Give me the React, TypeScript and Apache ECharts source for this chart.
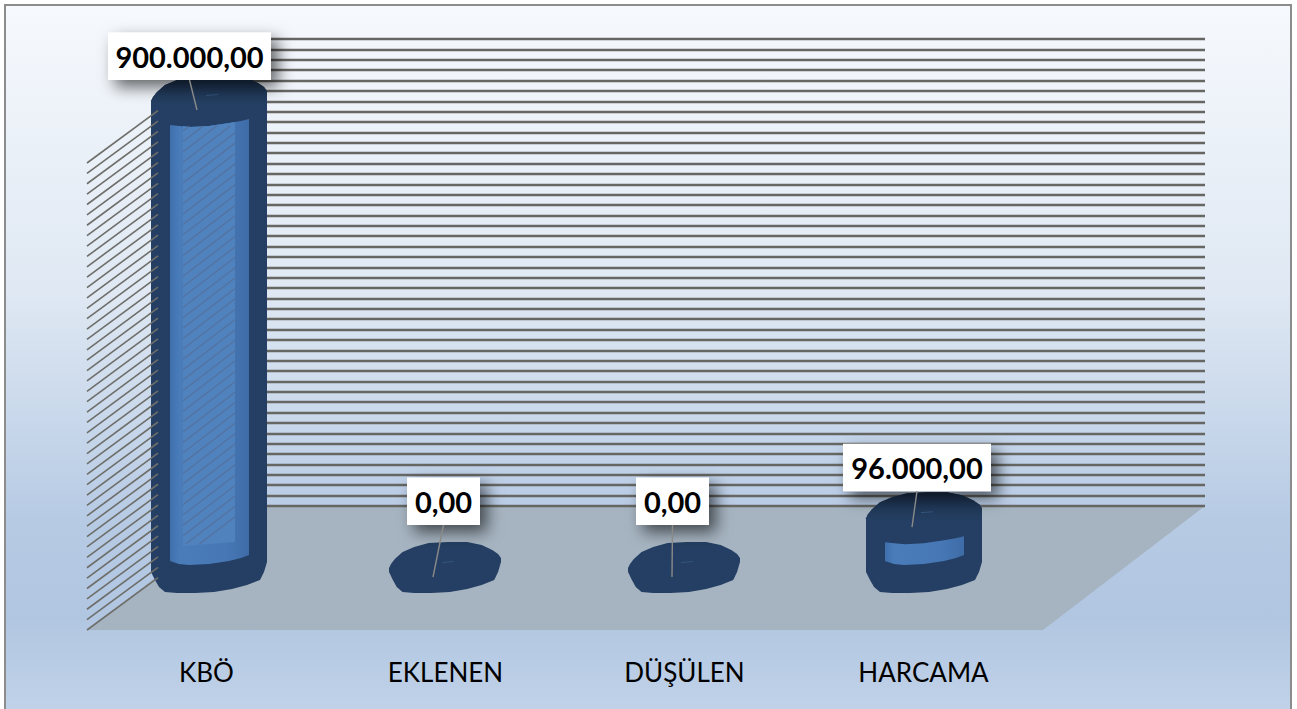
import React, { useEffect, useRef } from "react";
import * as echarts from "echarts";

const categories = ["KBÖ", "EKLENEN", "DÜŞÜLEN", "HARCAMA"];
const values = [900000, 0, 0, 96000];
const axisMax = 900000;
const axisStep = 20000;

// placement relative to the category centre / column top (pixels)
const columnNudgeX = [2.5, -0.5, -0.5, 0.5];
const labelShiftX = [-19.5, -1.5, -11.5, -7];
const labelGapY = [20, 42, 42, 26];

const FONT = "Lato, Carlito, 'Noto Sans', sans-serif";
const DEPTH_X = 162;
const DEPTH_Y = 124;
const BAR_SHIFT_Y = 63;
const RIM = "#243f63";

const topOutline = [[-58, 1], [-56, -3], [-52, -8], [-44, -15], [-32, -20], [-17, -24], [3, -25], [23, -25], [38, -22], [49, -17], [55, -13], [58, -9]];
const bottomOutline = [[58, -5], [55, 5], [51, 13], [38, 18], [23, 22], [5, 25], [-14, 26], [-32, 26], [-44, 25], [-50, 20], [-54, 13], [-58, 5]];
const windowTop = [[-39, 25], [-30, 26], [-19, 27], [0, 26], [20, 23], [32, 21], [40, 19]];
const windowBottom = [[40, -12], [32, -9], [20, -6], [0, -3], [-20, -2], [-30, -3], [-39, -6]];

const fmt = (v: number) => {
  const whole = String(Math.trunc(v)).replace(/\B(?=(\d{3})+$)/g, ".");
  return whole + ",00";
};

const ticks: number[] = [];
for (let v = 0; v <= axisMax; v += axisStep) ticks.push(v);

const wallColor = "#6e6e6a";

function renderFloor(params: any) {
  const c = params.coordSys;
  const x0 = c.x, x1 = c.x + c.width, y = c.y + c.height;
  return {
    type: "polygon",
    silent: true,
    shape: { points: [[x0, y], [x1, y], [x1 + DEPTH_X, y - DEPTH_Y], [x0 + DEPTH_X, y - DEPTH_Y]] },
    style: { fill: "#a6b4c1" },
  };
}

function renderWall(params: any, api: any) {
  const c = params.coordSys;
  const y = c.y + c.height - (api.value(0) / axisMax) * c.height;
  return {
    type: "line",
    silent: true,
    shape: { x1: c.x, y1: y, x2: c.x + 71, y2: y - 71 * (DEPTH_Y / DEPTH_X) + 2 },
    style: { stroke: wallColor, lineWidth: 1.6 },
  };
}

function renderBar(params: any, api: any) {
  const c = params.coordSys;
  const i = params.dataIndex;
  const pt = api.coord([i, api.value(1)]);
  const base = api.coord([i, 0]);
  const cx = pt[0] + columnNudgeX[i];
  const yTop = pt[1] - BAR_SHIFT_Y;
  const yBase = base[1] - BAR_SHIFT_Y;
  const flat = yBase - yTop <= 10;
  const sx = flat ? 0.965 : 1;
  const up = (o: number[]) => [cx + o[0] * sx, yTop + o[1]];
  const down = (o: number[]) => [cx + o[0] * sx, yBase + o[1]];
  const children: any[] = [
    {
      type: "polygon",
      shape: { points: [...topOutline.map(up), ...bottomOutline.map(down)] },
      style: { fill: RIM },
    },
  ];
  if (!flat) {
    children.push({
      type: "polygon",
      shape: { points: [...topOutline.map(up), [cx + 58, yTop + 4], [cx, yTop + 4], [cx - 58, yTop + 4]] },
      style: {
        fill: new echarts.graphic.LinearGradient(0, 0, 0, 1, [
          { offset: 0, color: "#1a2f4c" },
          { offset: 0.7, color: "#223b5c" },
          { offset: 1, color: RIM },
        ]),
      },
    });
    children.push({
      type: "polygon",
      shape: { points: [...windowTop.map(up), ...windowBottom.map(down)] },
      style: {
        fill: new echarts.graphic.LinearGradient(0, 0, 1, 0, [
          { offset: 0, color: "#3f70ac" },
          { offset: 0.12, color: "#4a7cba" },
          { offset: 0.7, color: "#4778b5" },
          { offset: 1, color: "#3e6ca8" },
        ]),
      },
    });
    const hatchTop = yTop + 26;
    const hatchBottom = yBase - 23;
    if (hatchBottom > hatchTop + 4) {
      const hx0 = cx - 26, hx1 = cx + 26;
      children.push({
        type: "polygon",
        shape: {
          points: [
            ...windowTop.filter((o) => Math.abs(o[0]) < 26).map(up),
            [hx1, yTop + 22],
            [hx1, yBase - 25],
            [hx0, yBase - 21],
            [hx0, yTop + 26],
          ],
        },
        style: { fill: "#5082be" },
      });
      const slope = DEPTH_Y / DEPTH_X;
      ticks.forEach((v) => {
        const y0 = api.coord([0, v])[1];
        const xa = c.x;
        const yAt = (x: number) => y0 - (x - xa) * slope;
        let a = hx0, b = hx1;
        if (yAt(a) > hatchBottom) a = xa + (y0 - hatchBottom) / slope;
        if (yAt(b) < hatchTop) b = xa + (y0 - hatchTop) / slope;
        if (a < b) {
          children.push({
            type: "line",
            shape: { x1: a, y1: yAt(a), x2: b, y2: yAt(b) },
            style: { stroke: "rgba(85,110,150,0.75)", lineWidth: 1.3 },
          });
        }
      });
    }
  }
  children.push({
    type: "line",
    shape: { x1: cx - 3, y1: yTop - 4.5, x2: cx + 9, y2: yTop - 5.5 },
    style: { stroke: "#33557f", lineWidth: 1 },
  });
  return { type: "group", silent: true, children };
}

function renderLabel(params: any, api: any) {
  const i = params.dataIndex;
  const value = api.value(1);
  const pt = api.coord([i, value]);
  const cx = pt[0] + columnNudgeX[i];
  const yTop = pt[1] - BAR_SHIFT_Y;
  const lx = cx + labelShiftX[i];
  const boxBottom = yTop - labelGapY[i];
  const w = value > 0 ? (value >= 100000 ? 163 : 148) : 73;
  const h = 47.5;
  return {
    type: "group",
    silent: true,
    children: [
      {
        type: "rect",
        shape: { x: lx - w / 2, y: boxBottom - h, width: w, height: h },
        style: { fill: "#ffffff", shadowBlur: 16, shadowOffsetX: 7, shadowOffsetY: 7, shadowColor: "rgba(0,0,0,0.6)" },
      },
      {
        type: "line",
        shape: { x1: lx, y1: boxBottom, x2: cx - 12, y2: yTop + 10 },
        style: { stroke: "#8a8a88", lineWidth: 1.4 },
      },
      {
        type: "text",
        x: lx,
        y: boxBottom - h / 2,
        style: {
          text: fmt(value),
          x: 0,
          y: 0,
          align: "center",
          verticalAlign: "middle",
          fill: "#000000",
          fontFamily: FONT,
          fontWeight: "bold",
          fontSize: 29,
        },
      },
    ],
  };
}

export default function App() {
  const ref = useRef<HTMLDivElement>(null);
  useEffect(() => {
    document.body.style.margin = "0";
    const chart = echarts.init(ref.current!, null, { renderer: "svg" });
    const barData = categories.map((c, i) => [i, values[i]]);
    chart.setOption({
      animation: false,
      backgroundColor: "#ffffff",
      graphic: {
        elements: [
          {
            type: "rect",
            z: -10,
            silent: true,
            shape: { x: 5, y: 5, width: 1286, height: 720 },
            style: {
              fill: new echarts.graphic.LinearGradient(0, 0, 0, 1, [
                { offset: 0, color: "#f6f9fd" },
                { offset: 0.4, color: "#dfe8f3" },
                { offset: 0.72, color: "#b6cae4" },
                { offset: 0.85, color: "#b1c6e1" },
                { offset: 1, color: "#c3d4ea" },
              ]),
              stroke: "#8c8c8c",
              lineWidth: 2,
            },
          },
        ],
      },
      grid: [
        { left: 87, top: 163, width: 956, height: 467 },
        { left: 87 + DEPTH_X, top: 163 - DEPTH_Y, width: 956, height: 467 },
      ],
      xAxis: [
        {
          gridIndex: 0,
          type: "category",
          data: categories,
          axisLine: { show: false },
          axisTick: { show: false },
          axisLabel: { color: "#000000", fontFamily: FONT, fontSize: 26, margin: 29 },
        },
        { gridIndex: 1, type: "category", data: categories, axisLine: { show: false }, axisTick: { show: false }, axisLabel: { show: false } },
      ],
      yAxis: [
        { gridIndex: 0, type: "value", min: 0, max: axisMax, interval: axisStep, show: false, splitLine: { show: false } },
        {
          gridIndex: 1,
          type: "value",
          z: 2,
          min: 0,
          max: axisMax,
          interval: axisStep,
          axisLine: { show: false },
          axisTick: { show: false },
          axisLabel: { show: false },
          splitLine: { show: true, lineStyle: { color: "#666663", width: 2.4 } },
        },
      ],
      series: [
        { type: "custom", name: "floor", xAxisIndex: 0, yAxisIndex: 0, z: 1, clip: false, silent: true, data: [[0, 0]], renderItem: renderFloor },
        { type: "custom", name: "columns", xAxisIndex: 0, yAxisIndex: 0, z: 3, clip: false, silent: true, encode: { x: 0, y: 1 }, data: barData, renderItem: renderBar },
        { type: "custom", name: "wall", xAxisIndex: 0, yAxisIndex: 0, z: 4, clip: false, silent: true, encode: { y: 0 }, data: ticks.map((t) => [t]), renderItem: renderWall },
        { type: "custom", name: "labels", xAxisIndex: 0, yAxisIndex: 0, z: 6, clip: false, silent: true, encode: { x: 0, y: 1 }, data: barData, renderItem: renderLabel },
      ],
    });
    return () => chart.dispose();
  }, []);
  return <div ref={ref} style={{ width: 1297, height: 709 }} />;
}
